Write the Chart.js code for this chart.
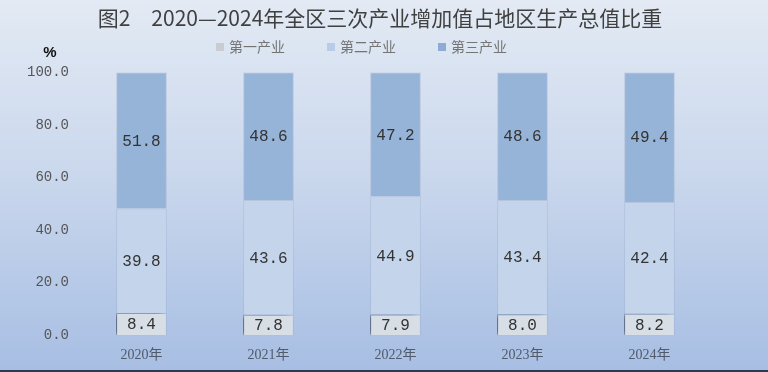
<!DOCTYPE html>
<html>
<head>
<meta charset="utf-8">
<script src="https://cdn.jsdelivr.net/npm/chart.js@4/dist/chart.umd.min.js"></script>
<style>
html,body{margin:0;padding:0;background:#c8d6ec;}
#wrap{width:768px;height:372px;position:relative;}
</style>
</head>
<body>
<div id="wrap"><canvas id="c" width="768" height="372"></canvas></div>
<script>
const titleText = "图2\u30002020—2024年全区三次产业增加值占地区生产总值比重";
const categories = ["2020年", "2021年", "2022年", "2023年", "2024年"];
const seriesNames = ["第一产业", "第二产业", "第三产业"];
const primary = [8.4, 7.8, 7.9, 8.0, 8.2];
const secondary = [39.8, 43.6, 44.9, 43.4, 42.4];
const tertiary = [51.8, 48.6, 47.2, 48.6, 49.4];
const yTicks = [0, 20, 40, 60, 80, 100];

const fillColors = ["#d8dee6", "#c4d4ea", "#96b3d8"];
const legendColors = ["#c9cdd3", "#b8cce7", "#8eabd3"];

const bgPlugin = {
  id: "bg",
  beforeDraw(chart) {
    const ctx = chart.ctx;
    const g = ctx.createLinearGradient(0, 0, 0, chart.height);
    g.addColorStop(0, "#e3eaf4");
    g.addColorStop(0.5, "#c8d6ec");
    g.addColorStop(1, "#a7bee3");
    ctx.save();
    ctx.fillStyle = g;
    ctx.fillRect(0, 0, chart.width, chart.height);
    ctx.fillStyle = "#2b3a52";
    ctx.fillRect(0, chart.height - 2, chart.width, 2);
    ctx.restore();
  }
};

const shadowPlugin = {
  id: "shadow",
  beforeDatasetDraw(chart, args) {
    const ctx = chart.ctx;
    ctx.save();
    if (args.index === 0) {
      ctx.shadowColor = "rgba(40,50,70,0.6)";
      ctx.shadowBlur = 5;
      ctx.shadowOffsetX = -6;
      ctx.shadowOffsetY = 0;
    }
  },
  afterDatasetDraw(chart) {
    chart.ctx.restore();
  }
};

const labelPlugin = {
  id: "vlabels",
  afterDatasetsDraw(chart) {
    const ctx = chart.ctx;
    ctx.save();
    ctx.font = "16px 'Liberation Mono', monospace";
    ctx.fillStyle = "#333";
    ctx.textAlign = "center";
    ctx.textBaseline = "middle";
    chart.data.datasets.forEach((ds, di) => {
      const meta = chart.getDatasetMeta(di);
      meta.data.forEach((bar, i) => {
        const p = bar.getProps(["x", "y", "base"], true);
        const cy = (p.y + p.base) / 2;
        ctx.fillText(ds.data[i].toFixed(1), p.x, cy + 1);
      });
    });
    ctx.restore();
  }
};

const legendPlugin = {
  id: "customLegend",
  afterDraw(chart) {
    const ctx = chart.ctx;
    ctx.save();
    ctx.font = "14px 'Noto Sans CJK SC', sans-serif";
    ctx.textBaseline = "middle";
    let x = 216;
    const y = 47;
    chart.data.datasets.forEach((ds, i) => {
      ctx.fillStyle = legendColors[i];
      ctx.fillRect(x, y - 4, 8, 8);
      ctx.fillStyle = "#747474";
      ctx.textAlign = "left";
      ctx.fillText(ds.label, x + 13, y);
      x += 111;
    });
    ctx.font = "bold 15px 'Liberation Sans', sans-serif";
    ctx.fillStyle = "#111";
    ctx.textAlign = "center";
    ctx.fillText("%", 50, 53);
    ctx.restore();
  }
};

new Chart(document.getElementById("c"), {
  type: "bar",
  data: {
    labels: categories,
    datasets: [
      { label: seriesNames[0], data: primary, backgroundColor: fillColors[0] },
      { label: seriesNames[1], data: secondary, backgroundColor: fillColors[1] },
      { label: seriesNames[2], data: tertiary, backgroundColor: fillColors[2] }
    ].map(d => Object.assign(d, { borderColor: "rgba(150,170,200,0.35)", borderWidth: 1, barPercentage: 0.8, categoryPercentage: 0.5 }))
  },
  options: {
    responsive: false,
    animation: false,
    devicePixelRatio: 1,
    layout: { padding: { top: 0, left: 20, right: 28, bottom: 4 } },
    plugins: {
      legend: { display: false },
      tooltip: { enabled: false },
      title: {
        display: true,
        text: titleText,
        color: "#404040",
        font: { size: 21, family: "'Noto Sans CJK SC', sans-serif", weight: "normal" },
        padding: { top: 5, bottom: 42 }
      }
    },
    scales: {
      x: {
        stacked: true,
        grid: { display: false },
        border: { display: false },
        ticks: { color: "#505a6a", font: { size: 14, family: "'Liberation Serif', 'Noto Sans CJK SC', serif" }, padding: 4 }
      },
      y: {
        stacked: true,
        min: 0,
        max: 100,
        afterBuildTicks(axis) { axis.ticks = yTicks.map(v => ({ value: v })); },
        afterFit(axis) { axis.width = 58; },
        grid: { display: false },
        border: { display: false },
        ticks: {
          color: "#555",
          padding: 1,
          font: { size: 14, family: "'Liberation Mono', monospace" },
          callback: v => Number(v).toFixed(1)
        }
      },
      ySpacer: {
        position: "right",
        display: true,
        grid: { display: false },
        border: { display: false },
        ticks: { display: false },
        afterFit(axis) { axis.width = 27; }
      }
    }
  },
  plugins: [bgPlugin, shadowPlugin, labelPlugin, legendPlugin]
});
</script>
</body>
</html>
